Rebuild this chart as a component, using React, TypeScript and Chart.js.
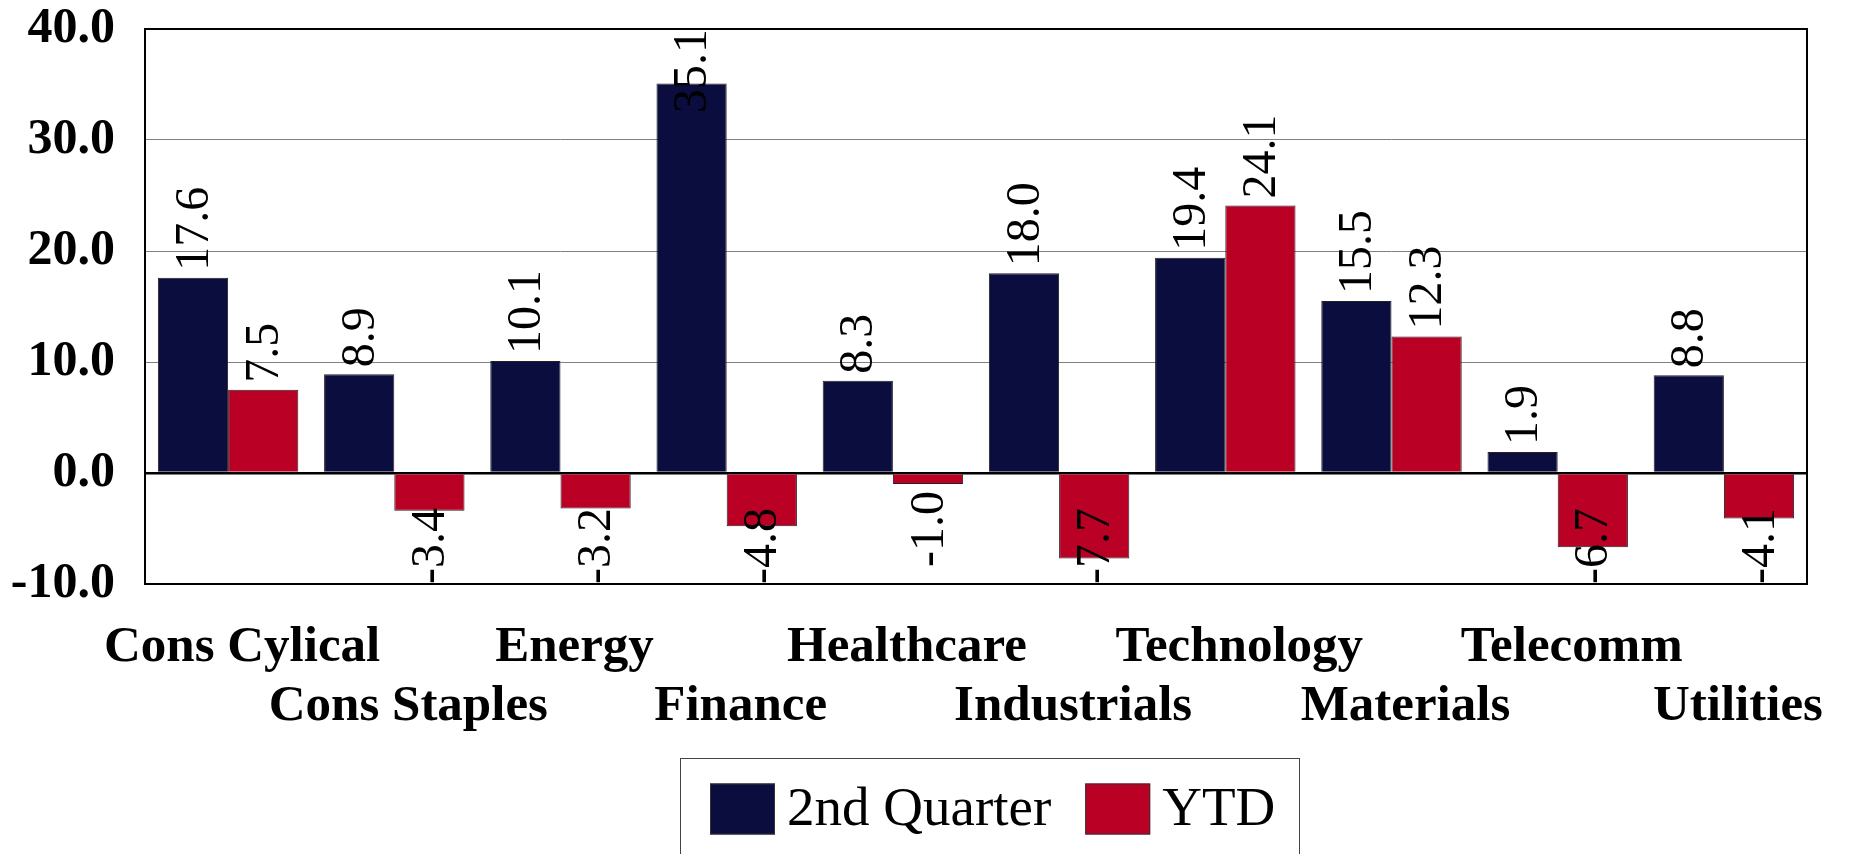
import React, { useEffect, useRef } from 'react';
import { Chart, registerables } from 'chart.js';

Chart.register(...registerables);

const categories = ['Cons Cylical', 'Cons Staples', 'Energy', 'Finance', 'Healthcare', 'Industrials', 'Technology', 'Materials', 'Telecomm', 'Utilities'];
const seriesNames = ['2nd Quarter', 'YTD'];
const quarterValues = [17.6, 8.9, 10.1, 35.1, 8.3, 18.0, 19.4, 15.5, 1.9, 8.8];
const ytdValues = [7.5, -3.4, -3.2, -4.8, -1.0, -7.7, 24.1, 12.3, -6.7, -4.1];
const yMin = -10;
const yMax = 40;
const yStep = 10;

const FONT = '"Liberation Serif", "Times New Roman", serif';
const NAVY = '#0b0d3e';
const RED = '#bb0026';

const barLabels = {
  id: 'barLabels',
  afterDatasetsDraw(chart: any) {
    const { ctx, chartArea } = chart;
    const GAP = 7;
    ctx.save();
    ctx.font = `normal 48px ${FONT}`;
    ctx.fillStyle = '#000';
    ctx.textBaseline = 'middle';
    ctx.textAlign = 'left';
    chart.data.datasets.forEach((ds: any, di: number) => {
      const meta = chart.getDatasetMeta(di);
      meta.data.forEach((bar: any, i: number) => {
        const v = ds.data[i] as number;
        const text = v.toFixed(1);
        const w = ctx.measureText(text).width;
        const x = bar.x;
        const y = bar.y;
        let start: number;
        if (v >= 0) {
          start = y - GAP;
          if (start - w < chartArea.top) start = chartArea.top + w;
        } else {
          let top = y + GAP;
          if (top + w > chartArea.bottom) top = chartArea.bottom - w;
          start = top + w;
        }
        ctx.save();
        ctx.translate(x + 2, start);
        ctx.rotate(-Math.PI / 2);
        ctx.fillText(text, 0, 0);
        ctx.restore();
      });
    });
    ctx.restore();
  },
};

const frame = {
  id: 'frame',
  afterDatasetsDraw(chart: any) {
    const { ctx, chartArea } = chart;
    ctx.save();
    ctx.strokeStyle = '#000';
    ctx.lineWidth = 2;
    ctx.strokeRect(chartArea.left, chartArea.top, chartArea.right - chartArea.left, chartArea.bottom - chartArea.top);
    ctx.restore();
  },
};

const boxLegend = {
  id: 'boxLegend',
  afterDraw(chart: any) {
    const { ctx, chartArea } = chart;
    const L_PAD = 30, R_PAD = 24, SW = 65, SH = 51, SW_GAP = 12, ITEM_GAP = 34;
    const items = chart.data.datasets.map((ds: any) => ({ text: ds.label, color: ds.backgroundColor }));
    ctx.save();
    ctx.font = `normal 55px ${FONT}`;
    const widths = items.map((it: any) => ctx.measureText(it.text).width);
    const total = L_PAD + R_PAD + widths.reduce((s: number, w: number) => s + SW + SW_GAP + w, 0) + ITEM_GAP * (items.length - 1);
    const cx = (chartArea.left + chartArea.right) / 2 + 14;
    const left = Math.round(cx - total / 2);
    const top = chart.height - 96;
    ctx.strokeStyle = '#444';
    ctx.lineWidth = 1;
    ctx.strokeRect(left + 0.5, top + 0.5, Math.round(total), 120);
    let x = left + L_PAD;
    const midY = top + 51;
    items.forEach((it: any, i: number) => {
      ctx.fillStyle = it.color;
      ctx.fillRect(x, midY - SH / 2, SW, SH);
      ctx.strokeStyle = '#333';
      ctx.strokeRect(x + 0.5, midY - SH / 2 + 0.5, SW - 1, SH - 1);
      x += SW + SW_GAP;
      ctx.fillStyle = '#000';
      ctx.textBaseline = 'middle';
      ctx.textAlign = 'left';
      ctx.fillText(it.text, x, midY + 2);
      x += widths[i] + ITEM_GAP;
    });
    ctx.restore();
  },
};

export default function App() {
  const ref = useRef<HTMLCanvasElement | null>(null);

  useEffect(() => {
    if (!ref.current) return;
    const chart = new Chart(ref.current, {
      type: 'bar',
      data: {
        labels: categories.map((c, i) => (i % 2 === 0 ? [c, ''] : ['', c])),
        datasets: [
          { label: seriesNames[0], data: quarterValues, backgroundColor: NAVY, borderColor: '#222', borderWidth: 1 },
          { label: seriesNames[1], data: ytdValues, backgroundColor: RED, borderColor: '#222', borderWidth: 1 },
        ],
      },
      options: {
        responsive: false,
        animation: false,
        events: [],
        layout: { padding: { top: 0, right: 47, left: 0, bottom: 96 } },
        datasets: { bar: { categoryPercentage: 0.845, barPercentage: 1 } },
        plugins: { legend: { display: false }, tooltip: { enabled: false } },
        scales: {
          x: {
            grid: { display: false, drawTicks: false },
            border: { display: false },
            ticks: {
              autoSkip: false,
              maxRotation: 0,
              minRotation: 0,
              padding: 34,
              labelOffset: 14,
              color: '#000',
              font: { family: FONT, size: 51, weight: 'bold', lineHeight: 1.16 },
            },
            afterFit: (scale: any) => { scale.height = 174; },
          },
          y: {
            min: yMin,
            max: yMax,
            ticks: {
              stepSize: yStep,
              padding: 30,
              color: '#000',
              font: { family: FONT, size: 50, weight: 'bold', lineHeight: 1.16 },
              callback: (v: any) => Number(v).toFixed(1),
            },
            grid: {
              drawTicks: false,
              color: (c: any) => (c.tick && c.tick.value === 0 ? '#000' : '#808080'),
              lineWidth: (c: any) => (c.tick && c.tick.value === 0 ? 2.5 : 1),
            },
            border: { display: false },
            afterFit: (scale: any) => {
              scale.width = 145;
              scale.paddingTop = 29;
              scale.paddingBottom = 0;
            },
          },
        },
      },
      plugins: [frame, barLabels, boxLegend],
    });
    return () => chart.destroy();
  }, []);

  return (
    <div style={{ position: 'fixed', left: 0, top: 0, width: 1854, height: 854, background: '#fff' }}>
      <canvas ref={ref} width={1854} height={854} style={{ display: 'block' }} />
    </div>
  );
}
